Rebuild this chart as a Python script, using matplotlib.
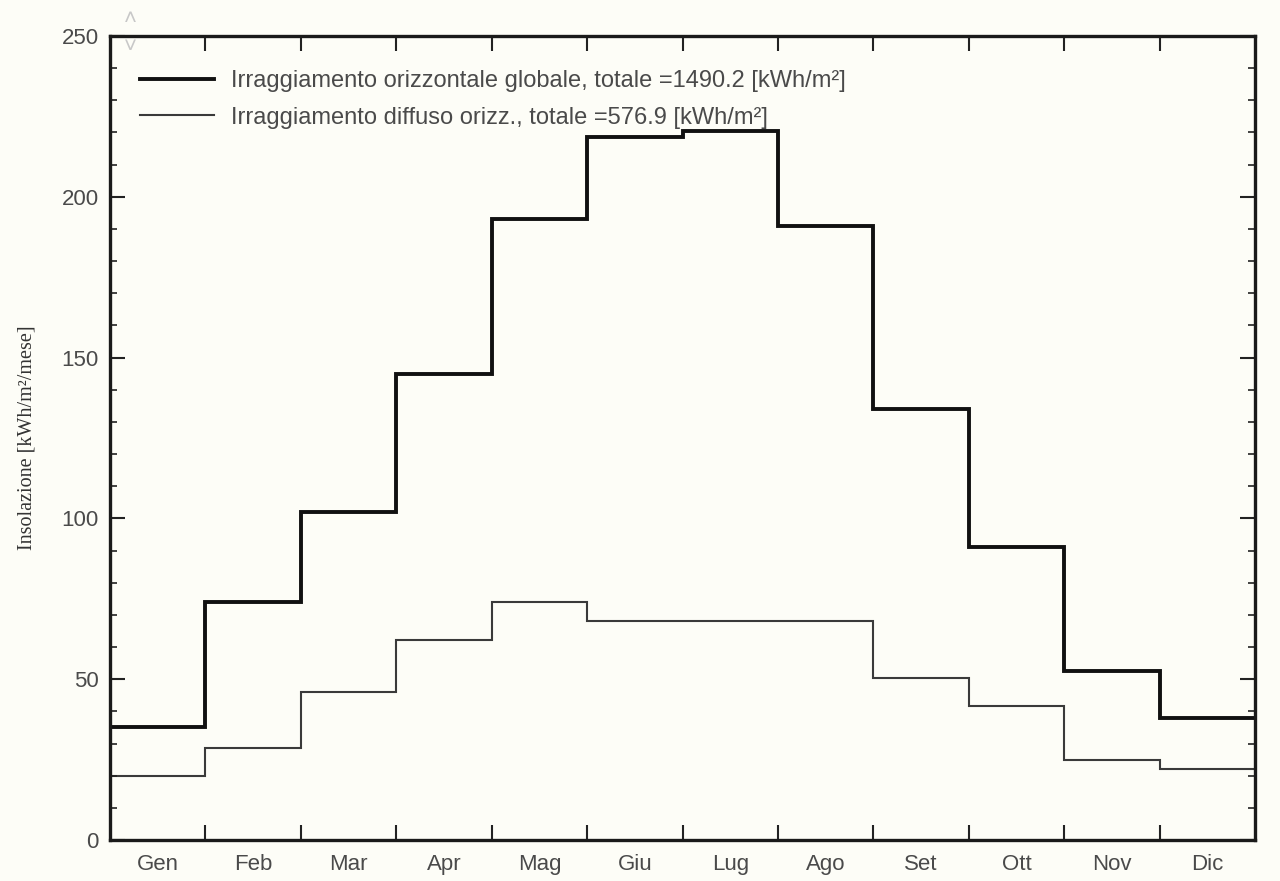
import numpy as np
import matplotlib.pyplot as plt
from matplotlib.ticker import MultipleLocator, FixedLocator, NullFormatter

months = ['Gen', 'Feb', 'Mar', 'Apr', 'Mag', 'Giu', 'Lug', 'Ago', 'Set', 'Ott', 'Nov', 'Dic']
globale = [35, 74, 102, 145, 193, 218.5, 220.5, 191, 134, 91, 52.5, 38]
diffuso = [20, 28.6, 46, 62.2, 74, 68, 68, 68, 50.5, 41.7, 25, 22]
label_glob = 'Irraggiamento orizzontale globale, totale =1490.2 [kWh/m²]'
label_diff = 'Irraggiamento diffuso orizz., totale =576.9 [kWh/m²]'

bg = '#fdfdf7'
txt = '#4a4a4a'

plt.rcParams['font.family'] = ['Liberation Sans', 'DejaVu Sans']

fig = plt.figure(figsize=(12.8, 8.81), dpi=100, facecolor=bg)
ax = fig.add_axes([110/1280, 1 - 840/881, (1255 - 110)/1280, (840 - 36)/881])
ax.set_facecolor(bg)

edges = np.arange(len(months) + 1)
ax.stairs(globale, edges, color='#111111', linewidth=2.8, baseline=None, label=label_glob)
ax.stairs(diffuso, edges, color='#3a3a3a', linewidth=1.5, baseline=None, label=label_diff)

ax.set_xlim(0, 12)
ax.set_ylim(0, 250)

# month boundaries as ticks, month names centred between them
ax.xaxis.set_major_locator(FixedLocator(edges[1:-1]))
ax.xaxis.set_major_formatter(NullFormatter())
ax.xaxis.set_minor_locator(FixedLocator(edges[:-1] + 0.5))
ax.set_xticklabels(months, minor=True)
ax.tick_params(axis='x', which='major', direction='in', length=11, width=1.5,
               top=True, bottom=True, colors='#222222')
ax.tick_params(axis='x', which='minor', length=0, pad=10, labelsize=16, labelcolor=txt)

ax.yaxis.set_major_locator(MultipleLocator(50))
ax.yaxis.set_minor_locator(MultipleLocator(10))
ax.tick_params(axis='y', which='major', direction='in', length=11, width=1.5,
               left=True, right=True, labelsize=16, colors='#222222', pad=8)
ax.tick_params(axis='y', which='minor', direction='in', length=5, width=1.2,
               left=True, right=True, colors='#222222')
for lbl in ax.get_yticklabels():
    lbl.set_color(txt)

for s in ax.spines.values():
    s.set_linewidth(2.4)
    s.set_color('#1a1a1a')

ax.set_ylabel('Insolazione [kWh/m²/mese]', fontsize=14.5, family=['Liberation Serif', 'DejaVu Serif'],
              color='#333333', labelpad=18)

leg = ax.legend(loc='upper left', bbox_to_anchor=(0.008, 0.984), frameon=False,
                fontsize=17, handlelength=3.1, handletextpad=0.75, labelspacing=0.62)
for t in leg.get_texts():
    t.set_color(txt)

# little scroll arrows of the original window
fig.text(130/1280, 1 - 20/881, '˄', color='#c8c8c8', fontsize=16, ha='center', va='center')
fig.text(130/1280, 1 - 47/881, '˅', color='#c8c8c8', fontsize=16, ha='center', va='center')

fig.savefig('out.png', dpi=100, facecolor=bg)
